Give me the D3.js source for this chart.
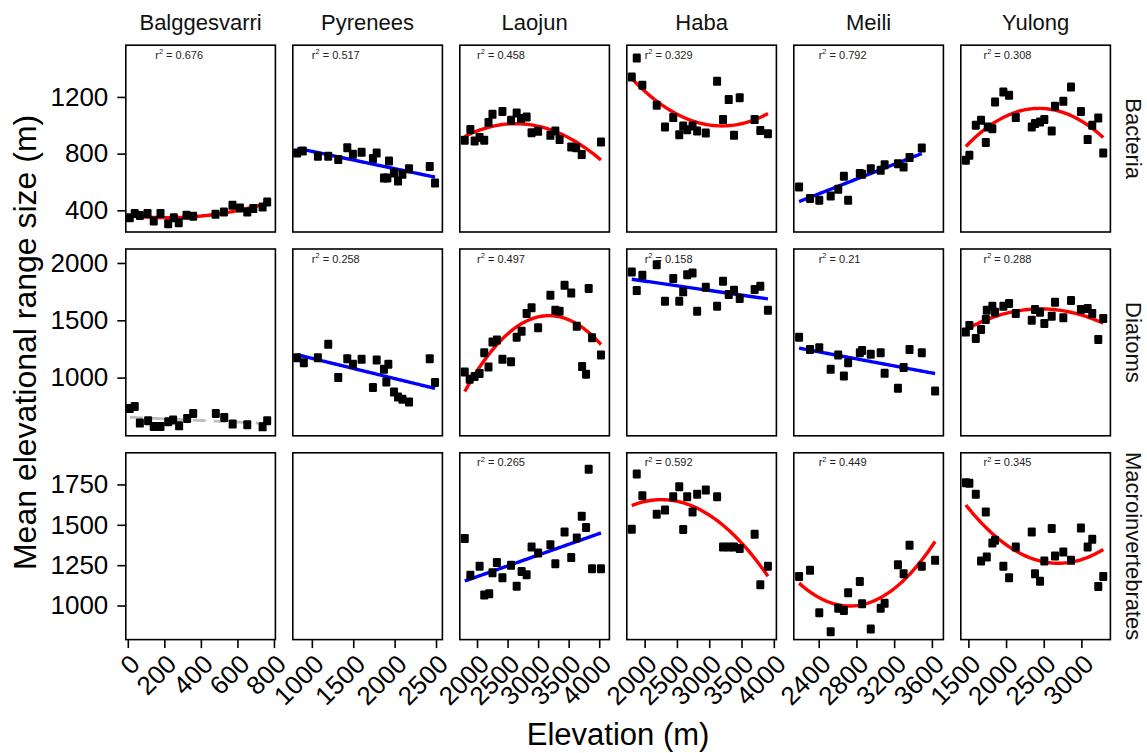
<!DOCTYPE html>
<html>
<head>
<meta charset="utf-8">
<script src="https://cdn.jsdelivr.net/npm/d3@7"></script>
<style>
  body { margin: 0; background: #fff; }
  text { font-family: "Liberation Sans", Arial, Helvetica, sans-serif; }
</style>
</head>
<body>
<svg id="chart" width="1147" height="753"></svg>
<script>
const regions = ["Balggesvarri", "Pyrenees", "Laojun", "Haba", "Meili", "Yulong"];
const taxa = ["Bacteria", "Diatoms", "Macroinvertebrates"];

const xTicks = [[0, 200, 400, 600, 800], [1000, 1500, 2000, 2500], [2000, 2500, 3000, 3500, 4000],
  [2000, 2500, 3000, 3500, 4000], [2400, 2800, 3200, 3600], [1500, 2000, 2500, 3000]];
const xLimits = [[-11, 808], [770, 2577], [1718, 4167], [1724, 4040], [2136, 3722], [1399, 3385]];
const yTicks = [[400, 800, 1200], [1000, 1500, 2000], [1000, 1250, 1500, 1750]];
const yLimits = [[247, 1565], [492, 2122], [789, 1946]];

// [elevation, mean elevational range size]
const bacteriaBalggesvarri = [[11,348],[38,377],[66,363],[108,377],[142,325],[179,377],[221,306],[252,348],[279,313],[321,365],[358,358],[480,372],[526,388],[573,435],[614,416],[654,388],[687,412],[738,423],[763,459]];
const bacteriaPyrenees = [[823,804],[891,818],[1073,781],[1198,781],[1319,758],[1428,842],[1496,795],[1601,809],[1738,765],[1783,804],[1932,748],[1871,628],[1912,628],[1992,663],[2041,607],[2094,654],[2174,694],[2424,710],[2488,593]];
const bacteriaLaojun = [[1799,894],[1891,971],[1961,889],[2042,913],[2118,894],[2188,1019],[2253,1077],[2416,1098],[2557,1035],[2649,1086],[2719,1047],[2812,1058],[2893,948],[3000,957],[3201,929],[3282,960],[3352,899],[3542,847],[3623,842],[3714,793],[4029,882]];
const bacteriaHaba = [[1801,1340],[1878,1474],[1965,1282],[2187,1141],[2315,988],[2443,1054],[2536,934],[2597,995],[2659,969],[2742,995],[2813,960],[2947,945],[3122,1310],[3214,1040],[3302,1181],[3384,929],[3472,1195],[3703,1040],[3791,964],[3909,941]];
const bacteriaMeili = [[2192,564],[2308,483],[2406,471],[2527,501],[2607,548],[2667,640],[2712,471],[2836,659],[2860,654],[2952,694],[3057,682],[3099,722],[3240,729],[3300,706],[3363,772],[3493,840]];
const bacteriaYulong = [[1466,753],[1513,788],[1598,1000],[1668,1035],[1731,878],[1757,988],[1818,976],[1854,1164],[1964,1235],[2040,1211],[2129,1054],[2341,988],[2384,1012],[2451,1023],[2508,1040],[2606,960],[2650,1134],[2760,1169],[2862,1270],[2994,1098],[3083,899],[3144,1000],[3224,1051],[3290,804]];

const diatomsBalggesvarri = [[11,730],[38,748],[66,603],[111,623],[142,574],[179,574],[221,614],[248,629],[281,579],[325,643],[358,687],[482,687],[528,652],[574,594],[654,588],[738,570],[763,623]];
const diatomsPyrenees = [[823,1174],[903,1130],[1073,1174],[1198,1290],[1319,1000],[1428,1165],[1496,1116],[1601,1159],[1738,913],[1783,1153],[1871,1072],[1924,1116],[1900,962],[1992,875],[2041,831],[2094,811],[2174,788],[2424,1165],[2488,957]];
const diatomsLaojun = [[1799,1049],[1880,985],[1961,1009],[2042,1035],[2118,1217],[2188,1092],[2253,1310],[2325,1327],[2416,1159],[2557,1139],[2649,1353],[2730,1405],[2812,1559],[2893,1609],[3000,1435],[3201,1718],[3282,1588],[3352,1579],[3433,1805],[3542,1739],[3633,1449],[3720,1096],[3785,1029],[3828,1777],[3883,1348],[4029,1197]];
const diatomsHaba = [[1801,1922],[1878,1759],[1965,1892],[2187,1985],[2315,1666],[2443,1864],[2536,1666],[2597,1748],[2659,1898],[2742,1913],[2813,1579],[2947,1788],[3122,1623],[3214,1840],[3302,1724],[3384,1762],[3472,1690],[3703,1768],[3791,1797],[3909,1588]];
const diatomsMeili = [[2192,1353],[2308,1246],[2406,1261],[2527,1072],[2607,1197],[2667,1014],[2712,1130],[2836,1217],[2860,1237],[2952,1203],[3057,1217],[3099,1037],[3240,907],[3300,1087],[3363,1246],[3493,1217],[3634,883]];
const diatomsYulong = [[1466,1397],[1513,1455],[1598,1342],[1668,1420],[1731,1507],[1744,1588],[1818,1623],[1854,1570],[1964,1623],[2040,1646],[2129,1559],[2341,1501],[2384,1594],[2451,1570],[2508,1472],[2606,1536],[2650,1657],[2760,1522],[2862,1672],[2994,1594],[3083,1603],[3144,1559],[3224,1333],[3290,1516]];

const macroLaojun = [[1799,1415],[1891,1187],[2042,1244],[2118,1066],[2200,1073],[2253,1203],[2325,1266],[2416,1172],[2557,1249],[2649,1120],[2730,1211],[2812,1191],[2893,1363],[3000,1325],[3201,1377],[3282,1259],[3433,1456],[3542,1297],[3633,1419],[3714,1553],[3785,1483],[3828,1844],[3883,1228],[4029,1228]];
const macroHaba = [[1801,1473],[1878,1815],[1965,1680],[2187,1566],[2315,1591],[2443,1674],[2536,1736],[2597,1471],[2659,1674],[2742,1580],[2813,1690],[2947,1715],[3122,1674],[3214,1363],[3302,1363],[3384,1363],[3472,1353],[3703,1442],[3791,1129],[3909,1244]];
const macroMeili = [[2192,1180],[2308,1218],[2406,955],[2527,838],[2607,983],[2667,969],[2712,1079],[2836,1149],[2860,1011],[2952,855],[3057,983],[3099,1014],[3240,1253],[3300,1197],[3363,1373],[3493,1244],[3634,1280]];
const macroYulong = [[1466,1761],[1513,1757],[1598,1690],[1668,1276],[1731,1580],[1744,1300],[1818,1387],[1854,1404],[1964,1243],[2040,1172],[2129,1363],[2341,1456],[2384,1197],[2451,1151],[2508,1276],[2606,1477],[2650,1307],[2760,1331],[2862,1280],[2994,1481],[3083,1363],[3144,1410],[3224,1118],[3290,1180]];

// fit per panel: quad = quadratic (red), lin = linear (blue), ns = not significant (grey dashed)
const fitTypes = [
  ["quad", "lin", "quad", "quad", "lin", "quad"],
  ["ns", "lin", "quad", "lin", "lin", "quad"],
  [null, null, "lin", "quad", "quad", "quad"]
];
const r2Labels = [
  ["0.676", "0.517", "0.458", "0.329", "0.792", "0.308"],
  [null, "0.258", "0.497", "0.158", "0.21", "0.288"],
  [null, null, "0.265", "0.592", "0.449", "0.345"]
];
const r2LabelX = [150, 1000, 2000, 2000, 2400, 1700];

const panelPoints = [
  [bacteriaBalggesvarri, bacteriaPyrenees, bacteriaLaojun, bacteriaHaba, bacteriaMeili, bacteriaYulong],
  [diatomsBalggesvarri, diatomsPyrenees, diatomsLaojun, diatomsHaba, diatomsMeili, diatomsYulong],
  [[], [], macroLaojun, macroHaba, macroMeili, macroYulong]
];

const panelLeft = 125.8, panelTop = 45.2, panelW = 149.6, panelH = 186.8, colStep = 167, rowStep = 203.8;
const fitColor = {quad: "#ff0000", lin: "#0000ff", ns: "#bdbdbd"};
const fontFamily = '"Liberation Sans", Arial, Helvetica, sans-serif';

// least squares polynomial fit (degree 1 or 2)
function fitPoly(pts, deg) {
  const k = deg + 1;
  const mx = d3.mean(pts, d => d[0]);
  const A = d3.range(k).map(() => new Array(k).fill(0));
  const b = new Array(k).fill(0);
  pts.forEach(([x, y]) => {
    const t = (x - mx) / 1000;
    const p = [1, t, t * t].slice(0, k);
    for (let i = 0; i < k; i++) {
      b[i] += p[i] * y;
      for (let j = 0; j < k; j++) A[i][j] += p[i] * p[j];
    }
  });
  for (let i = 0; i < k; i++) {
    for (let r = i + 1; r < k; r++) {
      const f = A[r][i] / A[i][i];
      for (let c = i; c < k; c++) A[r][c] -= f * A[i][c];
      b[r] -= f * b[i];
    }
  }
  const coef = new Array(k).fill(0);
  for (let i = k - 1; i >= 0; i--) {
    let s = b[i];
    for (let c = i + 1; c < k; c++) s -= A[i][c] * coef[c];
    coef[i] = s / A[i][i];
  }
  return x => {
    const t = (x - mx) / 1000;
    return coef[0] + coef[1] * t + (k > 2 ? coef[2] * t * t : 0);
  };
}

const svg = d3.select("#chart");
const defs = svg.append("defs");

taxa.forEach((taxon, r) => {
  const py = panelTop + r * rowStep;
  const y = d3.scaleLinear().domain(yLimits[r]).range([py + panelH, py]);

  regions.forEach((region, c) => {
    const px = panelLeft + c * colStep;
    const x = d3.scaleLinear().domain(xLimits[c]).range([px, px + panelW]);
    const pts = panelPoints[r][c];
    const clipId = `clip-${r}-${c}`;
    defs.append("clipPath").attr("id", clipId)
      .append("rect").attr("x", px).attr("y", py).attr("width", panelW).attr("height", panelH);

    const g = svg.append("g").attr("clip-path", `url(#${clipId})`);

    const type = fitTypes[r][c];
    if (type && pts.length) {
      const f = fitPoly(pts, type === "quad" ? 2 : 1);
      const [x0, x1] = d3.extent(pts, d => d[0]);
      const xs = d3.range(81).map(i => x0 + (x1 - x0) * i / 80);
      g.append("path")
        .datum(xs)
        .attr("fill", "none")
        .attr("stroke", fitColor[type])
        .attr("stroke-width", type === "ns" ? 2.8 : 3.4)
        .attr("stroke-dasharray", type === "ns" ? "13,8" : null)
        .attr("d", d3.line().x(d => x(d)).y(d => y(f(d))));
    }

    g.selectAll("rect.pt")
      .data(pts)
      .enter().append("rect")
        .attr("class", "pt")
        .attr("x", d => x(d[0]) - 4)
        .attr("y", d => y(d[1]) - 4.5)
        .attr("width", 8)
        .attr("height", 9)
        .attr("rx", 1.2)
        .attr("fill", "#000");

    if (r2Labels[r][c]) {
      const t = svg.append("text")
        .attr("x", x(r2LabelX[c]))
        .attr("y", py + 13.5)
        .attr("font-size", 11)
        .attr("fill", "#222");
      t.append("tspan").text("r");
      t.append("tspan").attr("font-size", 7.5).attr("dy", -4.5).text("2");
      t.append("tspan").attr("dy", 4.5).text(" = " + r2Labels[r][c]);
    }

    svg.append("rect")
      .attr("x", px).attr("y", py).attr("width", panelW).attr("height", panelH)
      .attr("fill", "none").attr("stroke", "#000").attr("stroke-width", 1.6);

    // strips
    if (r === 0) {
      svg.append("text")
        .attr("x", px + panelW / 2).attr("y", 29.5)
        .attr("text-anchor", "middle").attr("font-size", 22).attr("fill", "#111")
        .text(region);
    }

    // bottom x axis
    if (r === taxa.length - 1) {
      const ax = svg.append("g")
        .attr("transform", `translate(0,${py + panelH})`)
        .call(d3.axisBottom(x).tickValues(xTicks[c]).tickSize(8.5).tickFormat(d3.format("d")));
      ax.select(".domain").remove();
      ax.selectAll(".tick line").attr("stroke", "#000").attr("stroke-width", 1.6);
      ax.selectAll(".tick text")
        .attr("x", 0).attr("y", 0).attr("dy", "0.72em")
        .attr("transform", "translate(0,13) rotate(-45)")
        .attr("text-anchor", "end")
        .attr("font-size", 26).attr("fill", "#000")
        .attr("font-family", fontFamily);
    }
  });

  // left y axis
  const ay = svg.append("g")
    .attr("transform", `translate(${panelLeft},0)`)
    .call(d3.axisLeft(y).tickValues(yTicks[r]).tickSize(8.5).tickPadding(9).tickFormat(d3.format("d")));
  ay.select(".domain").remove();
  ay.selectAll(".tick line").attr("stroke", "#000").attr("stroke-width", 1.6);
  ay.selectAll(".tick text")
    .attr("font-size", 26).attr("fill", "#000")
    .attr("font-family", fontFamily);

  // right strip
  const cy = py + panelH / 2;
  svg.append("text")
    .attr("transform", `translate(1126,${cy}) rotate(90)`)
    .attr("text-anchor", "middle").attr("font-size", 22).attr("fill", "#111")
    .text(taxon);
});

svg.append("text")
  .attr("x", panelLeft + (5 * colStep + panelW) / 2).attr("y", 745)
  .attr("text-anchor", "middle").attr("font-size", 31).attr("fill", "#000")
  .text("Elevation (m)");

svg.append("text")
  .attr("transform", `translate(36,${panelTop + (2 * rowStep + panelH) / 2}) rotate(-90)`)
  .attr("text-anchor", "middle").attr("font-size", 32).attr("fill", "#000")
  .text("Mean elevational range size (m)");
</script>
</body>
</html>
